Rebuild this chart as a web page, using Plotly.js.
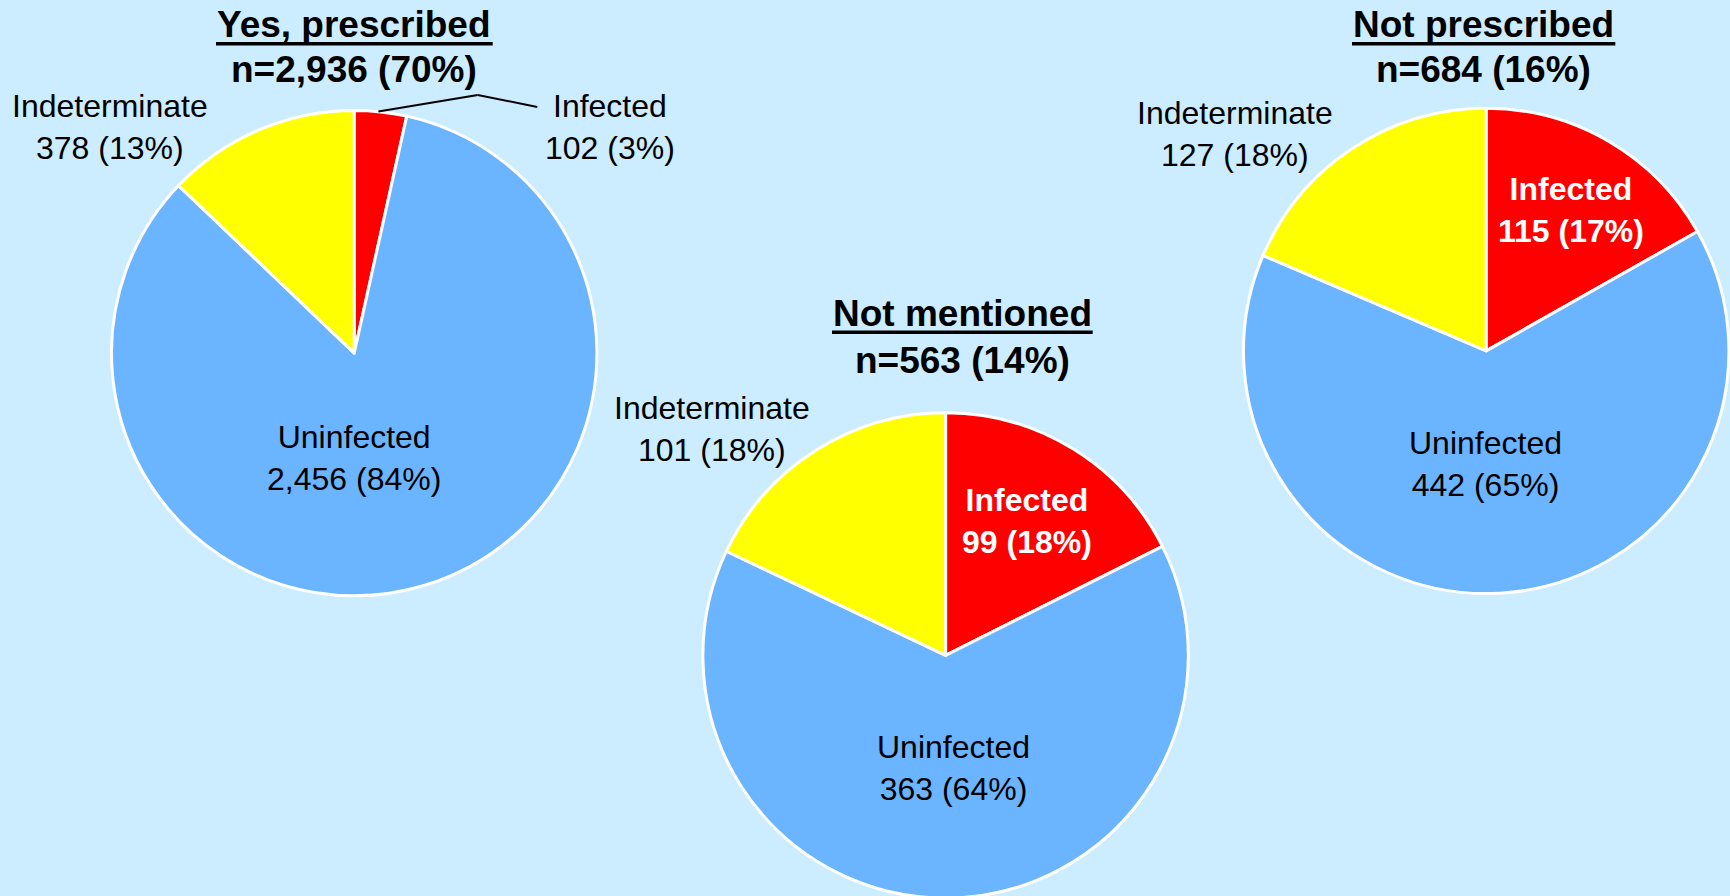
<!DOCTYPE html>
<html>
<head>
<meta charset="utf-8">
<script src="https://cdn.plot.ly/plotly-3.0.1.min.js"></script>
<style>
  html, body { margin: 0; padding: 0; overflow: hidden; background: #CCECFF; }
  #chart { width: 1730px; height: 900px; }
</style>
</head>
<body>
<div id="chart"></div>
<script>
// ---- data ----
const categories = ['Infected', 'Uninfected', 'Indeterminate'];
const groupNames = ['Yes, prescribed', 'Not mentioned', 'Not prescribed'];
const groupTotals = [2936, 563, 684];
const groupTotalPct = ['70%', '14%', '16%'];
const yesValues = [102, 2456, 378];
const notMentionedValues = [99, 363, 101];
const notPrescribedValues = [115, 442, 127];
const yesPct = ['3%', '84%', '13%'];
const notMentionedPct = ['18%', '64%', '18%'];
const notPrescribedPct = ['17%', '65%', '18%'];
const sliceColors = ['#FF0000', '#6BB4FF', '#FFFF00'];

const W = 1730, H = 900;
const FONT = '"Liberation Sans", Arial, sans-serif';
const px = x => x / W;
const py = y => 1 - y / H;

// pie geometry (pixels): centre and radius
const pies = [
  { cx: 354.2, cy: 353.1, r: 242.7, values: yesValues, pct: yesPct },
  { cx: 945.6, cy: 655.4, r: 242.7, values: notMentionedValues, pct: notMentionedPct },
  { cx: 1486.2, cy: 350.9, r: 242.7, values: notPrescribedValues, pct: notPrescribedPct }
];

const traces = pies.map(p => ({
  type: 'pie',
  labels: categories,
  values: p.values,
  sort: false,
  direction: 'clockwise',
  rotation: 0,
  textinfo: 'none',
  hoverinfo: 'label+value+percent',
  showlegend: false,
  marker: { colors: sliceColors, line: { color: '#FFFFFF', width: 3 } },
  domain: {
    x: [px(p.cx - p.r), px(p.cx + p.r)],
    y: [Math.max(0, py(p.cy + p.r)), py(p.cy - p.r)]
  }
}));

const fmt = v => v.toLocaleString('en-US');
const lbl = (pieIdx, catIdx) =>
  categories[catIdx] + '<br>' + fmt(pies[pieIdx].values[catIdx]) + ' (' + pies[pieIdx].pct[catIdx] + ')';

// label placement (pixels)
const labelPos = [
  [ {x: 610, y: 127, white: false}, {x: 354, y: 458, white: false}, {x: 110, y: 127, white: false} ],
  [ {x: 1027, y: 521, white: true}, {x: 953, y: 768, white: false}, {x: 712, y: 429, white: false} ],
  [ {x: 1571, y: 210, white: true}, {x: 1485, y: 464, white: false}, {x: 1235, y: 134, white: false} ]
];
// title placement (pixels): centre x, line-1 y, line-2 y, underline x0/x1/y
const titlePos = [
  {x: 354.3, y1: 24.5, y2: 70, ux0: 216, ux1: 492.7, uy: 43.7},
  {x: 962.3, y1: 313.5, y2: 360, ux0: 832, ux1: 1092.7, uy: 332.3},
  {x: 1483.6, y1: 24.5, y2: 70, ux0: 1352, ux1: 1615.3, uy: 43.7}
];

const annotations = [];
const shapes = [];
labelPos.forEach((row, i) => {
  row.forEach((pos, j) => {
    let t = lbl(i, j);
    if (pos.white) t = '<b>' + t.replace('<br>', '</b><br><b>') + '</b>';
    annotations.push({
      xref: 'paper', yref: 'paper', x: px(pos.x), y: py(pos.y),
      xanchor: 'center', yanchor: 'middle', showarrow: false,
      text: t, align: 'center',
      font: { family: FONT, size: 32, color: pos.white ? '#FFFFFF' : '#000000' }
    });
  });
});
titlePos.forEach((pos, i) => {
  annotations.push({
    xref: 'paper', yref: 'paper', x: px(pos.x), y: py(pos.y1),
    xanchor: 'center', yanchor: 'middle', showarrow: false,
    text: '<b>' + groupNames[i] + '</b>',
    font: { family: FONT, size: 37, color: '#000000' }
  });
  annotations.push({
    xref: 'paper', yref: 'paper', x: px(pos.x), y: py(pos.y2),
    xanchor: 'center', yanchor: 'middle', showarrow: false,
    text: '<b>n=' + fmt(groupTotals[i]) + ' (' + groupTotalPct[i] + ')</b>',
    font: { family: FONT, size: 37, color: '#000000' }
  });
  shapes.push({
    type: 'line', xref: 'paper', yref: 'paper',
    x0: px(pos.ux0), x1: px(pos.ux1), y0: py(pos.uy), y1: py(pos.uy),
    line: { color: '#000000', width: 3.5 }
  });
});

// leader line for the small "Infected" slice of the first pie
const leader = [[378.4, 111.4], [477.7, 94.9], [537.3, 107]];
for (let k = 0; k < leader.length - 1; k++) {
  shapes.push({
    type: 'line', xref: 'paper', yref: 'paper',
    x0: px(leader[k][0]), y0: py(leader[k][1]),
    x1: px(leader[k + 1][0]), y1: py(leader[k + 1][1]),
    line: { color: '#000000', width: 2 }
  });
}

const layout = {
  width: W, height: H,
  margin: { l: 0, r: 0, t: 0, b: 0, pad: 0 },
  paper_bgcolor: '#CCECFF',
  plot_bgcolor: '#CCECFF',
  showlegend: false,
  annotations: annotations,
  shapes: shapes
};

Plotly.newPlot('chart', traces, layout, { displayModeBar: false, staticPlot: true });
</script>
</body>
</html>
